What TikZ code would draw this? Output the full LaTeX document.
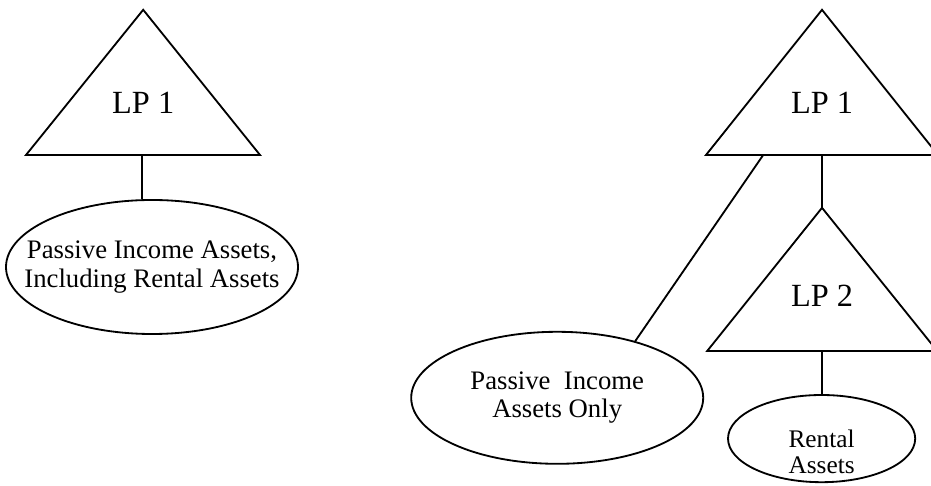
\documentclass[tikz,border=0pt]{standalone}
\usepackage{fontspec}
\setmainfont{Liberation Serif}
\usetikzlibrary{shapes.geometric}
\tikzset{
	link/.style={line width=1.3pt},
	lpname/.style={font=\fontsize{23}{26}\selectfont},
	asset/.style={draw,ellipse,line width=1.3pt,inner xsep=-1.2cm,inner ysep=-0.3cm,align=center,font=\fontsize{19}{20}\selectfont},
}
\begin{document}
\begin{tikzpicture}
	\useasboundingbox (0,0) rectangle (23.275,12.125) ;
	\coordinate (lpaTop) at (3.58,11.88) ;
	\coordinate (lpaLeft) at (0.65,8.25) ;
	\coordinate (lpaRight) at (6.50,8.25) ;
	\coordinate (lpaFoot) at (3.55,8.25) ;
	\draw[link] (lpaTop) -- (lpaRight) -- (lpaLeft) -- cycle ;
	\node[lpname] (lpaText) at (3.58,9.55) {LP 1} ;
	\node[asset,minimum width=7.30cm,minimum height=3.35cm] (mixed) at (3.80,5.45) {Passive Income Assets,\\Including Rental Assets} ;
	\draw[link] (lpaFoot) -- (lpaFoot |- mixed.north) ;
	\coordinate (lpbTop) at (20.55,11.88) ;
	\coordinate (lpbLeft) at (17.65,8.25) ;
	\coordinate (lpbRight) at (23.45,8.25) ;
	\coordinate (lpbFoot) at (20.55,8.25) ;
	\coordinate (lpbSide) at (19.08,8.25) ;
	\draw[link] (lpbTop) -- (lpbRight) -- (lpbLeft) -- cycle ;
	\node[lpname] (lpbText) at (20.55,9.55) {LP 1} ;
	\coordinate (lpcTop) at (20.55,6.93) ;
	\coordinate (lpcLeft) at (17.68,3.35) ;
	\coordinate (lpcRight) at (23.43,3.35) ;
	\coordinate (lpcFoot) at (20.55,3.35) ;
	\draw[link] (lpcTop) -- (lpcRight) -- (lpcLeft) -- cycle ;
	\node[lpname] (lpcText) at (20.55,4.72) {LP 2} ;
	\draw[link] (lpbFoot) -- (lpcTop) ;
	\node[asset,minimum width=7.30cm,minimum height=3.30cm] (passive) at (13.93,2.18) {Passive \ Income\\Assets Only} ;
	\draw[link] (lpbSide) -- (passive.36) ;
	\node[asset,minimum width=4.68cm,minimum height=2.18cm] (rental) at (20.54,1.16) {} ;
	\node[font=\fontsize{18}{18.5}\selectfont,align=center] (rentalText) at ([yshift=-0.32cm]rental.center) {Rental\\Assets} ;
	\draw[link] (lpcFoot) -- (lpcFoot |- rental.north) ;
\end{tikzpicture}
\end{document}
